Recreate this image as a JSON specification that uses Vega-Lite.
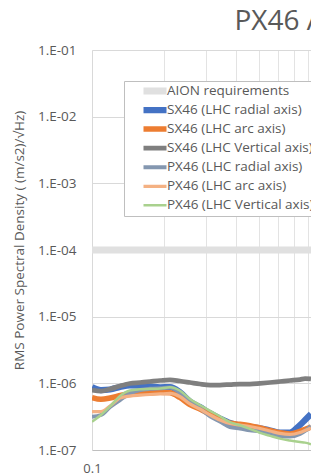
{
  "$schema": "https://vega.github.io/schema/vega-lite/v6.json",
  "width": 219,
  "height": 400,
  "autosize": {"type": "none"},
  "padding": {"left": 92, "top": 50, "right": 0, "bottom": 26},
  "background": "white",
  "title": {"text": "PX46 AION comparison", "anchor": "start", "dx": 222, "fontSize": 28, "font": "Open Sans", "fontWeight": "normal", "color": "#595959", "offset": 7},
  "config": {"view": {"stroke": null}},
  "data": {"values": [
    {"s": "AION requirements", "f": 0.1, "v": 1e-4},
    {"s": "AION requirements", "f": 0.825, "v": 1e-4},
    {"s": "SX46 (LHC radial axis)", "f": 0.1, "v": 8.81e-7},
    {"s": "SX46 (LHC radial axis)", "f": 0.109, "v": 7.94e-7},
    {"s": "SX46 (LHC radial axis)", "f": 0.119, "v": 8.08e-7},
    {"s": "SX46 (LHC radial axis)", "f": 0.131, "v": 8.81e-7},
    {"s": "SX46 (LHC radial axis)", "f": 0.144, "v": 9.34e-7},
    {"s": "SX46 (LHC radial axis)", "f": 0.159, "v": 9.27e-7},
    {"s": "SX46 (LHC radial axis)", "f": 0.175, "v": 8.97e-7},
    {"s": "SX46 (LHC radial axis)", "f": 0.193, "v": 8.72e-7},
    {"s": "SX46 (LHC radial axis)", "f": 0.212, "v": 8.75e-7},
    {"s": "SX46 (LHC radial axis)", "f": 0.233, "v": 7.41e-7},
    {"s": "SX46 (LHC radial axis)", "f": 0.257, "v": 5.34e-7},
    {"s": "SX46 (LHC radial axis)", "f": 0.283, "v": 4.42e-7},
    {"s": "SX46 (LHC radial axis)", "f": 0.312, "v": 3.55e-7},
    {"s": "SX46 (LHC radial axis)", "f": 0.343, "v": 2.97e-7},
    {"s": "SX46 (LHC radial axis)", "f": 0.378, "v": 2.54e-7},
    {"s": "SX46 (LHC radial axis)", "f": 0.416, "v": 2.33e-7},
    {"s": "SX46 (LHC radial axis)", "f": 0.458, "v": 2.19e-7},
    {"s": "SX46 (LHC radial axis)", "f": 0.505, "v": 2.12e-7},
    {"s": "SX46 (LHC radial axis)", "f": 0.556, "v": 1.96e-7},
    {"s": "SX46 (LHC radial axis)", "f": 0.612, "v": 1.82e-7},
    {"s": "SX46 (LHC radial axis)", "f": 0.674, "v": 1.83e-7},
    {"s": "SX46 (LHC radial axis)", "f": 0.742, "v": 2.37e-7},
    {"s": "SX46 (LHC radial axis)", "f": 0.779, "v": 2.82e-7},
    {"s": "SX46 (LHC radial axis)", "f": 0.825, "v": 3.47e-7},
    {"s": "SX46 (LHC arc axis)", "f": 0.1, "v": 6.1e-7},
    {"s": "SX46 (LHC arc axis)", "f": 0.109, "v": 5.77e-7},
    {"s": "SX46 (LHC arc axis)", "f": 0.119, "v": 6.03e-7},
    {"s": "SX46 (LHC arc axis)", "f": 0.131, "v": 6.57e-7},
    {"s": "SX46 (LHC arc axis)", "f": 0.144, "v": 7.04e-7},
    {"s": "SX46 (LHC arc axis)", "f": 0.159, "v": 7.24e-7},
    {"s": "SX46 (LHC arc axis)", "f": 0.175, "v": 7.31e-7},
    {"s": "SX46 (LHC arc axis)", "f": 0.193, "v": 7.34e-7},
    {"s": "SX46 (LHC arc axis)", "f": 0.212, "v": 7.21e-7},
    {"s": "SX46 (LHC arc axis)", "f": 0.233, "v": 6.14e-7},
    {"s": "SX46 (LHC arc axis)", "f": 0.257, "v": 4.81e-7},
    {"s": "SX46 (LHC arc axis)", "f": 0.283, "v": 4.12e-7},
    {"s": "SX46 (LHC arc axis)", "f": 0.312, "v": 3.41e-7},
    {"s": "SX46 (LHC arc axis)", "f": 0.343, "v": 2.87e-7},
    {"s": "SX46 (LHC arc axis)", "f": 0.378, "v": 2.52e-7},
    {"s": "SX46 (LHC arc axis)", "f": 0.416, "v": 2.43e-7},
    {"s": "SX46 (LHC arc axis)", "f": 0.458, "v": 2.31e-7},
    {"s": "SX46 (LHC arc axis)", "f": 0.505, "v": 2.14e-7},
    {"s": "SX46 (LHC arc axis)", "f": 0.556, "v": 1.96e-7},
    {"s": "SX46 (LHC arc axis)", "f": 0.612, "v": 1.81e-7},
    {"s": "SX46 (LHC arc axis)", "f": 0.674, "v": 1.74e-7},
    {"s": "SX46 (LHC arc axis)", "f": 0.742, "v": 1.91e-7},
    {"s": "SX46 (LHC arc axis)", "f": 0.779, "v": 2.04e-7},
    {"s": "SX46 (LHC arc axis)", "f": 0.825, "v": 2.21e-7},
    {"s": "SX46 (LHC Vertical axis)", "f": 0.1, "v": 7.94e-7},
    {"s": "SX46 (LHC Vertical axis)", "f": 0.109, "v": 7.67e-7},
    {"s": "SX46 (LHC Vertical axis)", "f": 0.119, "v": 8.22e-7},
    {"s": "SX46 (LHC Vertical axis)", "f": 0.131, "v": 9.12e-7},
    {"s": "SX46 (LHC Vertical axis)", "f": 0.144, "v": 9.94e-7},
    {"s": "SX46 (LHC Vertical axis)", "f": 0.159, "v": 1.029e-6},
    {"s": "SX46 (LHC Vertical axis)", "f": 0.175, "v": 1.065e-6},
    {"s": "SX46 (LHC Vertical axis)", "f": 0.193, "v": 1.103e-6},
    {"s": "SX46 (LHC Vertical axis)", "f": 0.212, "v": 1.13e-6},
    {"s": "SX46 (LHC Vertical axis)", "f": 0.233, "v": 1.084e-6},
    {"s": "SX46 (LHC Vertical axis)", "f": 0.257, "v": 1.029e-6},
    {"s": "SX46 (LHC Vertical axis)", "f": 0.283, "v": 9.77e-7},
    {"s": "SX46 (LHC Vertical axis)", "f": 0.312, "v": 9.44e-7},
    {"s": "SX46 (LHC Vertical axis)", "f": 0.343, "v": 9.44e-7},
    {"s": "SX46 (LHC Vertical axis)", "f": 0.378, "v": 9.6e-7},
    {"s": "SX46 (LHC Vertical axis)", "f": 0.416, "v": 9.77e-7},
    {"s": "SX46 (LHC Vertical axis)", "f": 0.458, "v": 9.77e-7},
    {"s": "SX46 (LHC Vertical axis)", "f": 0.505, "v": 1.0e-6},
    {"s": "SX46 (LHC Vertical axis)", "f": 0.556, "v": 1.029e-6},
    {"s": "SX46 (LHC Vertical axis)", "f": 0.612, "v": 1.065e-6},
    {"s": "SX46 (LHC Vertical axis)", "f": 0.674, "v": 1.103e-6},
    {"s": "SX46 (LHC Vertical axis)", "f": 0.742, "v": 1.14e-6},
    {"s": "SX46 (LHC Vertical axis)", "f": 0.779, "v": 1.18e-6},
    {"s": "SX46 (LHC Vertical axis)", "f": 0.825, "v": 1.161e-6},
    {"s": "PX46 (LHC radial axis)", "f": 0.1, "v": 3.16e-7},
    {"s": "PX46 (LHC radial axis)", "f": 0.109, "v": 3.35e-7},
    {"s": "PX46 (LHC radial axis)", "f": 0.119, "v": 4.42e-7},
    {"s": "PX46 (LHC radial axis)", "f": 0.131, "v": 5.62e-7},
    {"s": "PX46 (LHC radial axis)", "f": 0.144, "v": 7.04e-7},
    {"s": "PX46 (LHC radial axis)", "f": 0.159, "v": 7.94e-7},
    {"s": "PX46 (LHC radial axis)", "f": 0.175, "v": 8.28e-7},
    {"s": "PX46 (LHC radial axis)", "f": 0.193, "v": 8.45e-7},
    {"s": "PX46 (LHC radial axis)", "f": 0.212, "v": 8.66e-7},
    {"s": "PX46 (LHC radial axis)", "f": 0.233, "v": 7.29e-7},
    {"s": "PX46 (LHC radial axis)", "f": 0.257, "v": 5.25e-7},
    {"s": "PX46 (LHC radial axis)", "f": 0.283, "v": 4.2e-7},
    {"s": "PX46 (LHC radial axis)", "f": 0.312, "v": 3.21e-7},
    {"s": "PX46 (LHC radial axis)", "f": 0.343, "v": 2.68e-7},
    {"s": "PX46 (LHC radial axis)", "f": 0.378, "v": 2.21e-7},
    {"s": "PX46 (LHC radial axis)", "f": 0.416, "v": 2.1e-7},
    {"s": "PX46 (LHC radial axis)", "f": 0.458, "v": 1.97e-7},
    {"s": "PX46 (LHC radial axis)", "f": 0.505, "v": 1.9e-7},
    {"s": "PX46 (LHC radial axis)", "f": 0.556, "v": 1.74e-7},
    {"s": "PX46 (LHC radial axis)", "f": 0.612, "v": 1.62e-7},
    {"s": "PX46 (LHC radial axis)", "f": 0.674, "v": 1.59e-7},
    {"s": "PX46 (LHC radial axis)", "f": 0.742, "v": 1.74e-7},
    {"s": "PX46 (LHC radial axis)", "f": 0.779, "v": 1.93e-7},
    {"s": "PX46 (LHC radial axis)", "f": 0.825, "v": 2.29e-7},
    {"s": "PX46 (LHC arc axis)", "f": 0.1, "v": 3.76e-7},
    {"s": "PX46 (LHC arc axis)", "f": 0.109, "v": 3.76e-7},
    {"s": "PX46 (LHC arc axis)", "f": 0.119, "v": 4.57e-7},
    {"s": "PX46 (LHC arc axis)", "f": 0.131, "v": 6.03e-7},
    {"s": "PX46 (LHC arc axis)", "f": 0.144, "v": 6.42e-7},
    {"s": "PX46 (LHC arc axis)", "f": 0.159, "v": 6.63e-7},
    {"s": "PX46 (LHC arc axis)", "f": 0.175, "v": 6.8e-7},
    {"s": "PX46 (LHC arc axis)", "f": 0.193, "v": 6.92e-7},
    {"s": "PX46 (LHC arc axis)", "f": 0.212, "v": 7.04e-7},
    {"s": "PX46 (LHC arc axis)", "f": 0.233, "v": 6.35e-7},
    {"s": "PX46 (LHC arc axis)", "f": 0.257, "v": 4.9e-7},
    {"s": "PX46 (LHC arc axis)", "f": 0.283, "v": 4.12e-7},
    {"s": "PX46 (LHC arc axis)", "f": 0.312, "v": 3.35e-7},
    {"s": "PX46 (LHC arc axis)", "f": 0.343, "v": 2.82e-7},
    {"s": "PX46 (LHC arc axis)", "f": 0.378, "v": 2.5e-7},
    {"s": "PX46 (LHC arc axis)", "f": 0.416, "v": 2.37e-7},
    {"s": "PX46 (LHC arc axis)", "f": 0.458, "v": 2.25e-7},
    {"s": "PX46 (LHC arc axis)", "f": 0.505, "v": 2.1e-7},
    {"s": "PX46 (LHC arc axis)", "f": 0.556, "v": 1.93e-7},
    {"s": "PX46 (LHC arc axis)", "f": 0.612, "v": 1.77e-7},
    {"s": "PX46 (LHC arc axis)", "f": 0.674, "v": 1.71e-7},
    {"s": "PX46 (LHC arc axis)", "f": 0.742, "v": 1.83e-7},
    {"s": "PX46 (LHC arc axis)", "f": 0.779, "v": 1.96e-7},
    {"s": "PX46 (LHC arc axis)", "f": 0.825, "v": 2.14e-7},
    {"s": "PX46 (LHC Vertical axis)", "f": 0.1, "v": 2.66e-7},
    {"s": "PX46 (LHC Vertical axis)", "f": 0.109, "v": 3.35e-7},
    {"s": "PX46 (LHC Vertical axis)", "f": 0.119, "v": 4.5e-7},
    {"s": "PX46 (LHC Vertical axis)", "f": 0.131, "v": 6.46e-7},
    {"s": "PX46 (LHC Vertical axis)", "f": 0.144, "v": 7.8e-7},
    {"s": "PX46 (LHC Vertical axis)", "f": 0.159, "v": 8.13e-7},
    {"s": "PX46 (LHC Vertical axis)", "f": 0.175, "v": 8.28e-7},
    {"s": "PX46 (LHC Vertical axis)", "f": 0.193, "v": 8.38e-7},
    {"s": "PX46 (LHC Vertical axis)", "f": 0.212, "v": 8.72e-7},
    {"s": "PX46 (LHC Vertical axis)", "f": 0.233, "v": 7.8e-7},
    {"s": "PX46 (LHC Vertical axis)", "f": 0.257, "v": 5.82e-7},
    {"s": "PX46 (LHC Vertical axis)", "f": 0.283, "v": 4.73e-7},
    {"s": "PX46 (LHC Vertical axis)", "f": 0.312, "v": 3.87e-7},
    {"s": "PX46 (LHC Vertical axis)", "f": 0.343, "v": 3.21e-7},
    {"s": "PX46 (LHC Vertical axis)", "f": 0.378, "v": 2.61e-7},
    {"s": "PX46 (LHC Vertical axis)", "f": 0.416, "v": 2.35e-7},
    {"s": "PX46 (LHC Vertical axis)", "f": 0.458, "v": 2.08e-7},
    {"s": "PX46 (LHC Vertical axis)", "f": 0.505, "v": 1.81e-7},
    {"s": "PX46 (LHC Vertical axis)", "f": 0.556, "v": 1.63e-7},
    {"s": "PX46 (LHC Vertical axis)", "f": 0.612, "v": 1.48e-7},
    {"s": "PX46 (LHC Vertical axis)", "f": 0.674, "v": 1.39e-7},
    {"s": "PX46 (LHC Vertical axis)", "f": 0.742, "v": 1.32e-7},
    {"s": "PX46 (LHC Vertical axis)", "f": 0.779, "v": 1.29e-7},
    {"s": "PX46 (LHC Vertical axis)", "f": 0.825, "v": 1.22e-7}
  ]},
  "mark": {"type": "line", "interpolate": "monotone", "clip": true},
  "encoding": {
    "x": {
      "field": "f", "type": "quantitative",
      "scale": {"type": "log", "domain": [0.1, 0.825], "nice": false},
      "axis": {
        "values": [0.1, 0.2, 0.3, 0.4, 0.5, 0.6, 0.7, 0.8],
        "labelExpr": "datum.value < 0.15 ? '0.1' : ''",
        "labelFlush": false,
        "ticks": false,
        "labelPadding": 12,
        "labelFont": "Open Sans", "labelFontSize": 13, "labelColor": "#595959",
        "domainColor": "#bfbfbf", "gridColor": "#e3e3e3",
        "title": null
      }
    },
    "y": {
      "field": "v", "type": "quantitative",
      "scale": {"type": "log", "domain": [1e-7, 0.1], "nice": false},
      "axis": {
        "values": [1e-7, 1e-6, 1e-5, 1e-4, 1e-3, 1e-2, 1e-1],
        "labelExpr": "'1.E-0' + round(-log(datum.value) / LN10)",
        "ticks": false,
        "labelPadding": 16,
        "labelFont": "Open Sans", "labelFontSize": 13.5, "labelColor": "#595959",
        "domainColor": "#d9d9d9", "gridColor": "#d9d9d9",
        "title": "RMS Power Spectral Density ( (m/s2)/√Hz)",
        "titleFont": "Open Sans", "titleFontSize": 13.5, "titleFontWeight": "normal", "titleColor": "#595959",
        "titlePadding": 11, "titleY": 190
      }
    },
    "color": {
      "field": "s", "type": "nominal",
      "scale": {
        "domain": ["AION requirements", "SX46 (LHC radial axis)", "SX46 (LHC arc axis)", "SX46 (LHC Vertical axis)", "PX46 (LHC radial axis)", "PX46 (LHC arc axis)", "PX46 (LHC Vertical axis)"],
        "range": ["#e0e0e0", "#4472c4", "#ed7d31", "#7f7f7f", "#8497b0", "#f4b183", "#a9d18e"]
      },
      "legend": {
        "orient": "none", "legendX": 32, "legendY": 31, "title": null,
        "symbolType": "stroke", "symbolSize": 529, "symbolOffset": 13,
        "clipHeight": 14, "rowPadding": 5.05, "padding": 3,
        "labelFont": "Open Sans", "labelFontSize": 13.5, "labelColor": "#595959", "labelOffset": -3, "labelLimit": 300,
        "strokeColor": "#bfbfbf", "fillColor": "white"
      }
    },
    "strokeWidth": {
      "field": "s", "type": "nominal",
      "scale": {
        "domain": ["AION requirements", "SX46 (LHC radial axis)", "SX46 (LHC arc axis)", "SX46 (LHC Vertical axis)", "PX46 (LHC radial axis)", "PX46 (LHC arc axis)", "PX46 (LHC Vertical axis)"],
        "range": [7, 2.5, 2.5, 2.5, 1, 1, 1]
      },
      "legend": {
        "orient": "none", "legendX": 32, "legendY": 31, "title": null,
        "symbolType": "stroke", "symbolSize": 529, "symbolOffset": 13,
        "clipHeight": 14, "rowPadding": 5.05, "padding": 3,
        "labelFont": "Open Sans", "labelFontSize": 13.5, "labelColor": "#595959", "labelOffset": -3, "labelLimit": 300,
        "strokeColor": "#bfbfbf", "fillColor": "white"
      }
    }
  }
}
